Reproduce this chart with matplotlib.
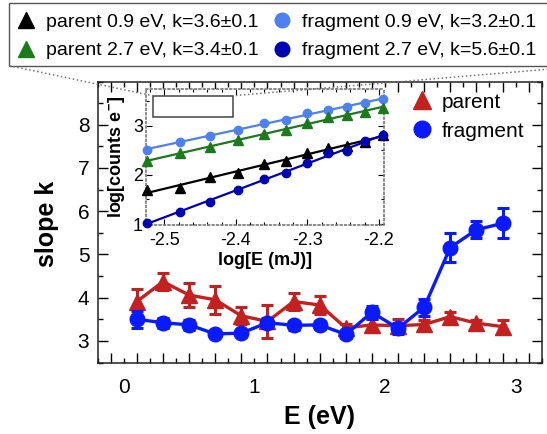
import numpy as np
import matplotlib
matplotlib.use('Agg')
import matplotlib.pyplot as plt
from matplotlib.lines import Line2D
from matplotlib.patches import Rectangle
from matplotlib.ticker import MultipleLocator, FuncFormatter

plt.rcParams['font.family'] = ['Liberation Sans', 'DejaVu Sans']
plt.rcParams['mathtext.default'] = 'regular'

##################### main panel data (slope k vs photon energy)
E = [0.1, 0.3, 0.5, 0.7, 0.9, 1.1, 1.3, 1.5, 1.7, 1.9, 2.1, 2.3, 2.5, 2.7, 2.9]
parent_k = [3.91, 4.37, 4.06, 3.95, 3.58, 3.45, 3.91, 3.83, 3.30, 3.37, 3.35, 3.38, 3.56, 3.41, 3.33]
parent_err = [0.30, 0.20, 0.27, 0.33, 0.20, 0.38, 0.20, 0.20, 0.10, 0.15, 0.15, 0.10, 0.10, 0.08, 0.15]
frag_k = [3.50, 3.42, 3.37, 3.16, 3.18, 3.42, 3.36, 3.37, 3.15, 3.66, 3.29, 3.78, 5.16, 5.57, 5.72]
frag_err = [0.20, 0.12, 0.12, 0.08, 0.08, 0.12, 0.10, 0.10, 0.08, 0.15, 0.12, 0.20, 0.33, 0.20, 0.35]

##################### inset data (log counts vs log pulse energy)
logE = [-2.5245, -2.478, -2.4365, -2.3975, -2.361, -2.3293, -2.300, -2.2707, -2.2439, -2.2196, -2.1941]
frag09 = [2.51, 2.68, 2.79, 2.92, 3.06, 3.12, 3.26, 3.33, 3.39, 3.47, 3.54]
par27 = [2.28, 2.45, 2.57, 2.71, 2.84, 2.91, 3.05, 3.17, 3.23, 3.29, 3.37]
par09 = [1.69, 1.73, 1.96, 2.04, 2.23, 2.28, 2.45, 2.55, 2.59, 2.68, 2.82]
frag27 = [1.03, 1.25, 1.45, 1.70, 1.91, 2.04, 2.24, 2.45, 2.49, 2.69, 2.81]

legend_labels = ['parent 0.9 eV, k=3.6\u00b10.1', 'parent 2.7 eV, k=3.4\u00b10.1',
                 'fragment 0.9 eV, k=3.2\u00b10.1', 'fragment 2.7 eV, k=5.6\u00b10.1']

RED = '#c42020'
BLUE = '#0a1aff'
LBLUE = '#4f80ef'
GREEN = '#1b7a1b'
DBLUE = '#0000b4'

W, H = 547, 434
fig = plt.figure(figsize=(W / 100, H / 100), dpi=100)

########################## main axes
ax = fig.add_axes([97.7 / W, 1 - 362.5 / H, 444 / W, 281 / H])
ax.errorbar(E, parent_k, yerr=parent_err, color=RED, marker='^', ms=11, lw=2.4,
            elinewidth=2.2, capsize=4, capthick=2.2, zorder=3)
ax.errorbar(E, frag_k, yerr=frag_err, color=BLUE, marker='o', ms=10.5, lw=2.4,
            elinewidth=2.2, capsize=4, capthick=2.2, zorder=4)
ax.set_xlim(-0.2, 3.2)
ax.set_ylim(2.5, 9.0)
# long ticks on the odd tenths, short ticks (with labels at integers) on the even tenths
ax.set_xticks(np.arange(-0.1, 3.2, 0.2))
ax.set_xticks(np.arange(-0.2, 3.21, 0.2), minor=True)
ax.xaxis.set_major_formatter(FuncFormatter(lambda v, p: ''))
ax.xaxis.set_minor_formatter(FuncFormatter(lambda v, p: '%d' % round(v) if abs(v - round(v)) < 1e-6 else ''))
ax.set_yticks([3, 4, 5, 6, 7, 8])
ax.yaxis.set_minor_locator(MultipleLocator(0.5))
ax.tick_params(which='both', direction='in', top=True, right=True, width=1)
ax.tick_params(which='major', length=7)
ax.tick_params(which='minor', length=3.5)
ax.tick_params(axis='x', which='both', labelsize=15, pad=11)
ax.tick_params(axis='y', labelsize=15, pad=6)
for s in ax.spines.values():
    s.set_linewidth(1.1)
    s.set_color('#222222')
ax.set_xlabel('E (eV)', fontsize=18, fontweight='bold')
ax.set_ylabel('slope k', fontsize=18, fontweight='bold')
ax.xaxis.set_label_coords(0.5, -0.15)
ax.yaxis.set_label_coords(-0.087, 0.495)

h_main = [Line2D([], [], ls='none', marker='^', ms=13, color=RED),
          Line2D([], [], ls='none', marker='o', ms=12, color=BLUE)]
ax.legend(h_main, ['parent', 'fragment'], loc='upper left', bbox_to_anchor=(0.707, 0.96),
          frameon=False, fontsize=15, handlelength=1.0, handletextpad=0.45,
          labelspacing=0.47, borderpad=0, borderaxespad=0)

########################## inset
ins = fig.add_axes([145.8 / W, 1 - 225 / H, 238 / W, 136.5 / H])
for ys, col, mk, ms in [(frag09, LBLUE, 'o', 6), (par27, GREEN, '^', 6.5),
                        (par09, 'black', '^', 6.5), (frag27, DBLUE, 'o', 6)]:
    p = np.polyfit(logE, ys, 1)
    xx = np.array([logE[0], logE[-1]])
    ins.plot(xx, np.polyval(p, xx), color=col, lw=1.6, zorder=2)
    ins.plot(logE, ys, ls='none', marker=mk, ms=ms, color=col, zorder=3, clip_on=False)
ins.set_xlim(-2.526, -2.193)
ins.set_ylim(0.98, 3.76)
ins.set_xticks([-2.5, -2.4, -2.3, -2.2])
ins.set_xticklabels(['-2.5', '-2.4', '-2.3', '-2.2'])
ins.set_yticks([1, 2, 3])
ins.xaxis.set_minor_locator(MultipleLocator(0.02))
ins.yaxis.set_minor_locator(MultipleLocator(0.5))
ins.tick_params(which='both', direction='in', top=True, right=True, width=0.8)
ins.tick_params(which='major', length=4)
ins.tick_params(which='minor', length=2.5)
ins.tick_params(axis='x', labelsize=13, pad=5)
ins.tick_params(axis='y', labelsize=13, pad=2)
for s in ins.spines.values():
    s.set_linestyle(':')
    s.set_color('#777777')
    s.set_linewidth(1.2)
ins.set_xlabel('log[E (mJ)]', fontsize=13, fontweight='bold')
ins.set_ylabel('log[counts e$^{-}$]', fontsize=13, fontweight='bold')
ins.xaxis.set_label_coords(0.5, -0.2)
ins.yaxis.set_label_coords(-0.08, 0.5)
box = Rectangle((0.029, 0.789), 0.336, 0.158, transform=ins.transAxes,
                facecolor='white', edgecolor='#444444', lw=1.1, zorder=5)
ins.add_patch(box)

########################## top legend (figure level, frame runs off the right edge)
h_top = [Line2D([], [], ls='none', marker='^', ms=11, color='black'),
         Line2D([], [], ls='none', marker='^', ms=11, color=GREEN),
         Line2D([], [], ls='none', marker='o', ms=10.5, color=LBLUE),
         Line2D([], [], ls='none', marker='o', ms=10.5, color=DBLUE)]
leg = fig.legend(h_top, legend_labels, loc='upper left', bbox_to_anchor=(9.3 / W, 1 - 2.7 / H),
                 ncol=2, fontsize=14, frameon=False,
                 handlelength=0.66, handletextpad=0.66, columnspacing=0.9,
                 labelspacing=0.55, borderpad=0.55, borderaxespad=0)
leg_x0, leg_y0, leg_x1 = 9.3, 434 - 65.7, 590
fig.add_artist(Rectangle((leg_x0 / W, leg_y0 / H), (leg_x1 - leg_x0) / W, 63 / H,
                         transform=fig.transFigure, facecolor='none',
                         edgecolor='#555555', lw=1.0, clip_on=False))

########################## dotted connectors legend -> rectangle
bl = ins.transAxes.transform((0.029, 0.947))
br = ins.transAxes.transform((0.365, 0.947))
for (x0, y0), (x1, y1) in [((leg_x0, leg_y0), bl), ((leg_x1, leg_y0), br)]:
    fig.add_artist(Line2D([x0 / W, x1 / W], [y0 / H, y1 / H], transform=fig.transFigure,
                          ls=':', color='#777777', lw=1.1))

fig.savefig('out.png', dpi=100)
